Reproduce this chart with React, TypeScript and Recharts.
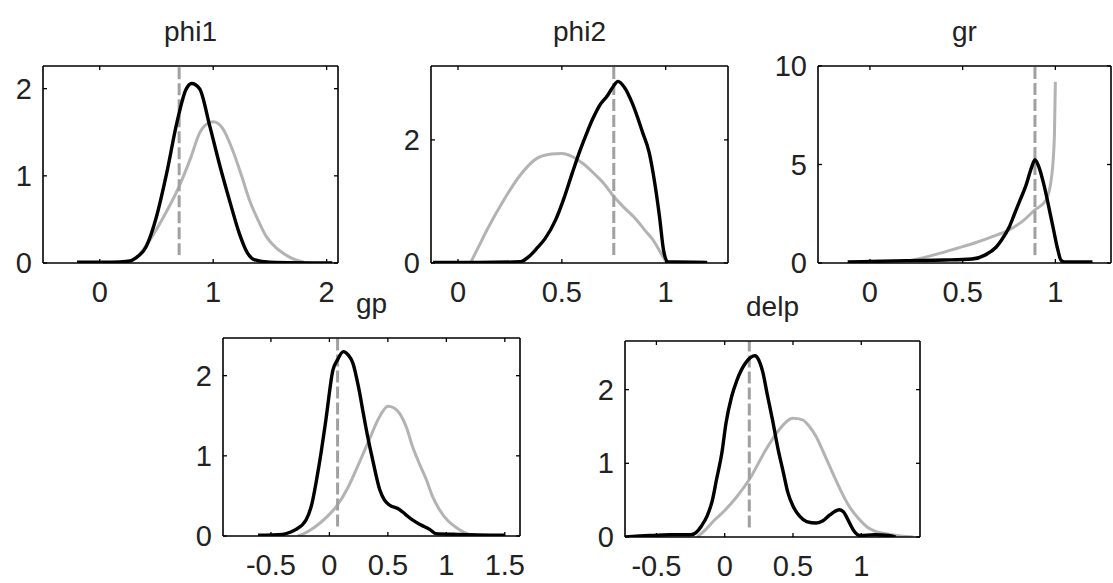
import React from 'react';
import { LineChart, Line, XAxis, YAxis } from 'recharts';

// ---------- data (x, density) ----------
const phi1Prior = [[0.25,0.0],[0.35,0.1],[0.44,0.26],[0.55,0.5],[0.7,0.88],[0.8,1.2],[0.88,1.49],[0.95,1.6],[1.0,1.62],[1.08,1.55],[1.17,1.3],[1.25,1.0],[1.32,0.72],[1.4,0.48],[1.47,0.3],[1.55,0.18],[1.62,0.11],[1.7,0.05],[1.8,0.01]];
const phi1Post = [[-0.2,0.01],[0.1,0.01],[0.25,0.02],[0.32,0.06],[0.41,0.19],[0.5,0.53],[0.59,1.03],[0.68,1.61],[0.76,1.99],[0.81,2.06],[0.88,2.0],[0.97,1.57],[1.06,1.11],[1.15,0.69],[1.23,0.34],[1.3,0.12],[1.36,0.04],[1.5,0.01],[2.05,0.0]];
const phi1Mark = [[0.7,0.09],[0.7,2.26]];

const phi2Prior = [[0.06,0.0],[0.1,0.27],[0.14,0.54],[0.22,1.02],[0.3,1.43],[0.38,1.7],[0.45,1.77],[0.5,1.78],[0.55,1.73],[0.6,1.62],[0.65,1.47],[0.7,1.3],[0.75,1.08],[0.8,0.9],[0.86,0.7],[0.9,0.53],[0.94,0.37],[0.97,0.2],[1.0,0.03]];
const phi2Post = [[-0.12,0.01],[0.1,0.01],[0.3,0.02],[0.34,0.1],[0.38,0.24],[0.42,0.4],[0.47,0.7],[0.51,1.05],[0.55,1.46],[0.59,1.85],[0.62,2.11],[0.65,2.35],[0.68,2.55],[0.72,2.72],[0.75,2.88],[0.77,2.95],[0.8,2.86],[0.84,2.59],[0.89,2.11],[0.92,1.8],[0.94,1.45],[0.97,0.76],[0.99,0.2],[1.01,0.02],[1.2,0.01]];
const phi2Mark = [[0.75,0.13],[0.75,3.2]];

const grPrior = [[0.2,0.1],[0.3,0.3],[0.38,0.5],[0.47,0.75],[0.56,1.0],[0.65,1.3],[0.75,1.68],[0.82,2.1],[0.89,2.7],[0.95,3.2],[0.98,4.4],[0.995,6.5],[1.0,9.2]];
const grPost = [[-0.12,0.05],[0.0,0.08],[0.2,0.12],[0.4,0.15],[0.55,0.2],[0.62,0.4],[0.68,0.8],[0.71,1.17],[0.75,1.8],[0.78,2.5],[0.81,3.2],[0.84,3.9],[0.87,4.8],[0.89,5.25],[0.91,4.9],[0.94,3.9],[0.97,2.6],[0.99,1.7],[1.01,0.8],[1.03,0.15],[1.05,0.05],[1.2,0.05]];
const grMark = [[0.89,0.4],[0.89,10]];

const gpPrior = [[-0.27,0.0],[-0.18,0.06],[-0.09,0.15],[0.0,0.27],[0.06,0.37],[0.15,0.58],[0.23,0.83],[0.34,1.2],[0.43,1.49],[0.5,1.62],[0.55,1.6],[0.6,1.53],[0.66,1.35],[0.71,1.12],[0.77,0.9],[0.83,0.7],[0.88,0.5],[0.94,0.33],[1.02,0.18],[1.09,0.1],[1.2,0.02],[1.35,0.0]];
const gpPost = [[-0.61,0.01],[-0.4,0.02],[-0.33,0.05],[-0.29,0.08],[-0.2,0.2],[-0.15,0.4],[-0.11,0.7],[-0.07,1.05],[-0.03,1.45],[0.03,2.07],[0.07,2.2],[0.12,2.3],[0.16,2.26],[0.2,2.16],[0.25,1.85],[0.29,1.53],[0.33,1.22],[0.37,0.95],[0.43,0.58],[0.47,0.45],[0.51,0.39],[0.6,0.33],[0.65,0.27],[0.71,0.2],[0.78,0.14],[0.86,0.08],[0.91,0.03],[1.1,0.02],[1.5,0.01]];
const gpMark = [[0.07,0.12],[0.07,2.47]];

const delpPrior = [[-0.2,0.0],[-0.14,0.1],[-0.08,0.22],[0.0,0.36],[0.09,0.55],[0.18,0.78],[0.3,1.18],[0.4,1.46],[0.5,1.61],[0.57,1.59],[0.62,1.5],[0.67,1.36],[0.73,1.12],[0.79,0.87],[0.85,0.63],[0.91,0.42],[0.98,0.25],[1.04,0.14],[1.1,0.08],[1.16,0.05],[1.22,0.03],[1.3,0.01],[1.38,0.0]];
const delpPost = [[-0.73,0.0],[-0.55,0.02],[-0.4,0.03],[-0.25,0.03],[-0.21,0.06],[-0.17,0.15],[-0.13,0.28],[-0.09,0.5],[-0.06,0.78],[-0.02,1.15],[0.01,1.55],[0.05,1.9],[0.09,2.13],[0.16,2.38],[0.22,2.46],[0.25,2.4],[0.28,2.23],[0.31,1.95],[0.35,1.59],[0.39,1.2],[0.43,0.87],[0.46,0.62],[0.5,0.42],[0.55,0.28],[0.6,0.21],[0.67,0.19],[0.72,0.22],[0.77,0.3],[0.84,0.37],[0.87,0.34],[0.89,0.28],[0.92,0.17],[0.94,0.1],[0.99,0.02],[1.1,0.03],[1.2,0.02],[1.25,0.0]];
const delpMark = [[0.18,0.13],[0.18,2.66]];

const titles = ['phi1', 'phi2', 'gr', 'gp', 'delp'];
const xTicksList = [[0, 1, 2], [0, 0.5, 1], [0, 0.5, 1], [-0.5, 0, 0.5, 1, 1.5], [-0.5, 0, 0.5, 1]];
const yTicksList = [[0, 1, 2], [0, 2], [0, 5, 10], [0, 1, 2], [0, 1, 2]];
const xDomains = [[-0.5, 2.1], [-0.13, 1.3], [-0.28, 1.3], [-0.91, 1.63], [-0.73, 1.43]];
const yDomains = [[0, 2.26], [0, 3.2], [0, 10], [0, 2.47], [0, 2.66]];

// ---------- layout / style ----------
const boxes = [
  { x0: 43, x1: 338, y0: 66, y1: 263 },
  { x0: 431, x1: 728, y0: 66, y1: 263 },
  { x0: 818, x1: 1111, y0: 66, y1: 263 },
  { x0: 223, x1: 520, y0: 338, y1: 536 },
  { x0: 625, x1: 920, y0: 341, y1: 537 },
];
const FONT = "'Liberation Sans', Arial, Helvetica, sans-serif";
const TXT = '#222';
const TICK_FS = 29;
const axisStyle = { stroke: '#000', strokeWidth: 1.6 };
const M = 60;
const A = 10; // axis thickness reserved

const toPts = (a: number[][]) => a.map(([x, y]) => ({ x, y }));

const BottomTick = (p: any) => (
  <g>
    <line x1={p.x} x2={p.x} y1={p.y} y2={p.y - 4} stroke="#000" strokeWidth={1.3} />
    <text x={p.x} y={p.y + 39} textAnchor="middle" fontSize={TICK_FS} fill={TXT} fontFamily={FONT}>
      {String(p.payload.value)}
    </text>
  </g>
);
const TopTick = (p: any) => (
  <line x1={p.x} x2={p.x} y1={p.y} y2={p.y + 4} stroke="#000" strokeWidth={1.3} />
);
const LeftTick = (p: any) => (
  <g>
    <line x1={p.x} x2={p.x + 4} y1={p.y} y2={p.y} stroke="#000" strokeWidth={1.3} />
    <text x={p.x - 11} y={p.y + 10} textAnchor="end" fontSize={TICK_FS} fill={TXT} fontFamily={FONT}>
      {String(p.payload.value)}
    </text>
  </g>
);
const RightTick = (p: any) => (
  <line x1={p.x} x2={p.x - 4} y1={p.y} y2={p.y} stroke="#000" strokeWidth={1.3} />
);

function Panel({ i, prior, post, mark }: { i: number; prior: number[][]; post: number[][]; mark: number[][] }) {
  const b = boxes[i];
  const w = b.x1 - b.x0;
  const h = b.y1 - b.y0;
  return (
    <div style={{ position: 'absolute', left: b.x0 - M, top: b.y0 - M }}>
      <LineChart width={w + 2 * M} height={h + 2 * M} margin={{ top: M - A, right: M - A, bottom: M - A, left: M - A }}>
        <XAxis xAxisId="b" type="number" dataKey="x" orientation="bottom" domain={xDomains[i]} ticks={xTicksList[i]}
          allowDataOverflow height={A} tickSize={0} tickMargin={0} tickLine={false} axisLine={axisStyle} tick={BottomTick} interval={0} />
        <XAxis xAxisId="t" type="number" dataKey="x" orientation="top" domain={xDomains[i]} ticks={xTicksList[i]}
          allowDataOverflow height={A} tickSize={0} tickMargin={0} tickLine={false} axisLine={axisStyle} tick={TopTick} interval={0}
          label={{ value: titles[i], position: 'top', offset: 15, fontSize: 28, fill: TXT, fontFamily: FONT }} />
        <YAxis yAxisId="l" type="number" orientation="left" domain={yDomains[i]} ticks={yTicksList[i]}
          allowDataOverflow width={A} tickSize={0} tickMargin={0} tickLine={false} axisLine={axisStyle} tick={LeftTick} interval={0} />
        <YAxis yAxisId="r" type="number" orientation="right" domain={yDomains[i]} ticks={yTicksList[i]}
          allowDataOverflow width={A} tickSize={0} tickMargin={0} tickLine={false} axisLine={axisStyle} tick={RightTick} interval={0} />
        <Line xAxisId="b" yAxisId="l" data={toPts(prior)} dataKey="y" type="monotone" stroke="#b3b3b3" strokeWidth={3} dot={false} isAnimationActive={false} />
        <Line xAxisId="b" yAxisId="l" data={toPts(mark)} dataKey="y" type="linear" stroke="#a0a0a0" strokeWidth={3} strokeDasharray="12 4" dot={false} isAnimationActive={false} />
        <Line xAxisId="b" yAxisId="l" data={toPts(post)} dataKey="y" type="monotone" stroke="#000" strokeWidth={3.4} dot={false} isAnimationActive={false} />
      </LineChart>
    </div>
  );
}

export default function App() {
  return (
    <div style={{ position: 'absolute', left: 0, top: 0, width: 1113, height: 583, overflow: 'hidden', background: '#fff' }}>
      <Panel i={0} prior={phi1Prior} post={phi1Post} mark={phi1Mark} />
      <Panel i={1} prior={phi2Prior} post={phi2Post} mark={phi2Mark} />
      <Panel i={2} prior={grPrior} post={grPost} mark={grMark} />
      <Panel i={3} prior={gpPrior} post={gpPost} mark={gpMark} />
      <Panel i={4} prior={delpPrior} post={delpPost} mark={delpMark} />
    </div>
  );
}
